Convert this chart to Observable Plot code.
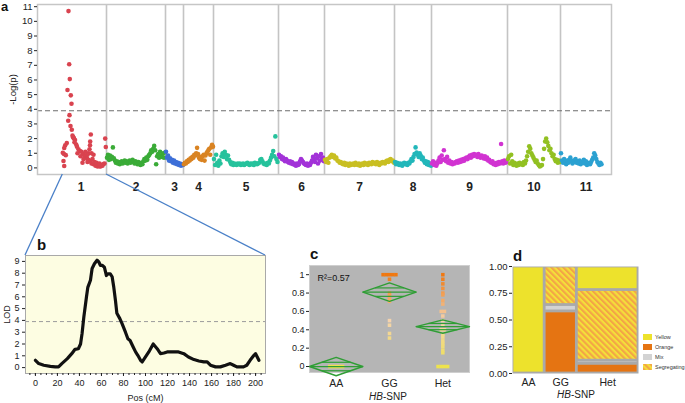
<!DOCTYPE html>
<html><head><meta charset="utf-8">
<script src="https://cdn.jsdelivr.net/npm/d3@7"></script>
<script src="https://cdn.jsdelivr.net/npm/@observablehq/plot@0.6"></script>
<style>
html,body{margin:0;padding:0;background:#fff;}
#root{position:relative;width:685px;height:403px;overflow:hidden;font-family:"Liberation Sans",Arial,sans-serif;color:#222;}
.panel{position:absolute;}
.plab{position:absolute;font:bold 15px "Liberation Sans",Arial,sans-serif;line-height:15px;color:#111;}
.xlab{position:absolute;font:10px "Liberation Sans",Arial,sans-serif;color:#222;transform:translate(-50%,-50%);white-space:nowrap;}
.legrow{position:absolute;display:flex;align-items:center;font:5.5px "Liberation Sans",Arial,sans-serif;color:#333;white-space:nowrap;}
</style></head><body>
<svg width="0" height="0" style="position:absolute"><defs>
<pattern id="hatch" patternUnits="userSpaceOnUse" width="4.2" height="4.2" patternTransform="rotate(-45)">
<rect width="4.2" height="4.2" fill="#f3e03a"></rect><rect width="2.1" height="4.2" fill="#f3a446"></rect>
</pattern></defs></svg>
<div id="root"></div>
<script>
// ---------- Panel a: genome scan ----------
const chromNames = ["1","2","3","4","5","6","7","8","9","10","11"];
const chromEnds = [51,110,128,158,223,269,339,376,452,505,556];
const chromColors = ["#d9434f","#3aab37","#3d6fd8","#d98322","#26c29c","#a232d8","#c9bf22","#22b7ba","#d133d1","#92c022","#2ba1d1"];
const threshold = 3.9;
const chr1Pos = [13,13.7,14.3,12,15.3,16,14,12.7,15,16.3,17.7,18.5,19.5,20.7,21.5,23,24.5,26,27.5,29,30,31.5,33,35,36,38,40,42,44,46,48,35.3,34.7,34.5,34,33,32,49.7,50.3,49,11.3,9.7,8.7,7.3,8.5,10.3,8,8.7,22,25,28,30,32,27,37,38,36,39,41,43,45,47,44,18,17,19];
const chr1LogP = [10.7,7.07,6.06,5.32,4.95,4.38,3.6,3.22,2.86,2.6,2.1,2.0,1.9,1.6,1.45,1.27,1.15,1.1,0.95,0.85,0.75,0.65,0.55,0.47,0.3,0.25,0.15,0.1,0.12,0.2,0.27,2.28,1.8,1.55,1.27,1.0,0.9,2.0,1.43,0.3,1.7,1.54,1.36,1.03,0.95,0.87,0.47,0.13,1.0,0.8,0.6,1.1,0.4,0.35,0.6,0.9,1.0,0.4,0.35,0.25,0.1,0.15,0.3,2.05,2.2,1.75];
const markerSpans = [[51.5,109.5],[110.5,127.5],[128.5,157.5],[158.5,222],[223.5,268.5],[269.5,338.5],[339.5,375.5],[376.5,451],[452.5,504.5],[505.5,546]];
const chr2LogP = [0.7,0.9,0.55,0.85,0.6,0.75,1.4,0.65,0.5,0.35,0.45,0.3,0.4,0.25,0.35,0.45,0.3,0.4,0.5,0.35,0.45,0.3,0.4,0.5,0.35,0.45,0.55,0.4,0.3,0.45,0.35,0.25,0.4,0.3,0.2,0.35,0.25,0.45,0.6,0.5,0.7,0.55,0.8,0.9,1.0,1.2,1.1,1.3,1.5,1.2,0.25,0.8,0.95,0.7,1.1,0.85,0.75,1.0,0.7,1.05];
const chr3LogP = [1.1,0.7,0.85,0.5,0.65,0.45,0.55,0.35,0.5,0.3,0.4,0.25,0.35,0.2,0.3,0.15,0.25,0.2];
const chr4LogP = [0.25,0.35,0.3,0.45,0.4,0.55,0.5,0.65,0.6,0.75,0.7,0.9,0.85,1.0,1.37,0.95,0.7,0.6,0.75,0.55,0.8,0.9,0.5,0.85,1.0,1.1,1.2,1.3,0.9,1.4,1.57,1.45];
const chr5LogP = [0.6,0.2,0.9,0.35,0.15,0.5,0.3,0.8,1.0,0.75,1.1,0.9,0.6,0.85,0.55,0.4,0.25,0.35,0.2,0.3,0.25,0.2,0.3,0.25,0.3,0.2,0.25,0.3,0.2,0.25,0.3,0.35,0.25,0.2,0.3,0.25,0.3,0.2,0.35,0.3,0.25,0.3,0.35,0.55,0.6,0.45,0.3,0.25,0.3,0.2,0.35,0.3,0.5,0.7,0.9,1.15,0.8,2.15,0.6,0.4];
const chr6LogP = [0.9,0.75,0.8,0.6,0.7,0.55,0.45,0.6,0.5,0.4,0.35,0.45,0.3,0.4,0.25,0.3,0.2,0.15,0.3,0.2,0.25,0.45,0.6,0.5,0.4,0.3,0.25,0.2,0.3,0.15,0.25,0.2,0.35,0.5,0.75,0.6,0.4,0.9,0.65,0.3,0.8,0.5,0.95,0.6,0.7,0.45];
const chr7LogP = [0.55,0.4,0.6,0.35,0.7,0.8,0.9,0.75,0.85,0.65,0.7,0.5,0.45,0.35,0.4,0.3,0.25,0.35,0.2,0.3,0.25,0.15,0.3,0.2,0.25,0.3,0.2,0.35,0.25,0.2,0.3,0.15,0.25,0.3,0.2,0.35,0.25,0.3,0.2,0.35,0.3,0.25,0.4,0.3,0.35,0.25,0.4,0.3,0.2,0.35,0.3,0.4,0.35,0.3,0.45,0.5,0.4,0.55,0.6,0.45,0.5,0.35];
const chr8LogP = [0.4,0.25,0.35,0.3,0.2,0.3,0.25,0.15,0.3,0.35,0.25,0.3,0.2,0.35,0.3,0.45,0.6,0.5,0.75,0.95,1.4,1.05,0.9,0.75,1.0,0.85,0.6,0.7,0.5,0.35,0.45,0.25,0.4,0.2,0.3,0.15];
const chr9LogP = [0.3,0.45,0.2,0.35,0.15,0.3,0.5,0.7,0.4,0.85,0.55,1.2,0.6,0.45,0.75,0.35,0.5,0.3,0.4,0.25,0.35,0.3,0.4,0.45,0.35,0.5,0.4,0.55,0.45,0.6,0.5,0.65,0.7,0.6,0.75,0.85,0.7,0.9,0.8,0.95,0.85,0.9,0.75,0.95,0.8,0.7,0.85,0.75,0.65,0.8,0.6,0.7,0.5,0.55,0.4,0.35,0.45,0.25,0.3,0.2,0.35,0.25,0.4,0.3,1.63,0.45,0.3,0.5,0.35,0.4];
const chr10LogP = [0.6,0.8,0.3,0.9,0.45,0.2,0.35,0.25,0.15,0.3,0.2,0.35,0.25,0.3,0.2,0.4,0.3,0.5,0.8,1.1,1.47,1.3,1.0,0.85,0.7,0.55,0.4,0.5,0.3,0.2,0.1,0.15,0.2,0.6,1.3,1.8,2.0,1.75,1.5,1.2,1.3,1.0,0.8,0.9,0.6,0.45,0.55,0.35,0.5,0.4];
const chr11LogP = [1.0,0.5,0.35,0.6,0.4,0.25,0.5,0.35,0.55,0.7,0.45,0.3,0.5,0.4,0.6,0.35,0.45,0.3,0.5,0.25,0.4,0.35,0.55,0.3,0.45,0.2,0.35,0.3,0.25,0.4,0.55,0.7,1.0,0.85,0.6,0.4,0.3,0.2,0.35,0.25];

// ---------- Panel b: LOD profile of chromosome 1 ----------
const lodPos = [0,3,7.6,13.6,18,21,24,29,33,36,39,41,42.4,44,46.4,47.6,50,51.5,53.6,56,57.6,59,60.6,62.7,64.5,65.8,68,69.7,71.2,72.7,74,76.7,78.8,81.8,84,86,88.8,91,93,95.5,97,100,103,107,110.6,113.6,116.7,119.7,125.8,130,134.8,139,144,148.5,153,156,159,163.6,168,172.7,177,180,183,189,192,195,198.5,200,201.5,203];
const lodValue = [0.62,0.34,0.2,0.11,0.06,0.06,0.34,0.76,1.18,1.55,1.6,2.0,2.9,4.3,6.0,6.8,7.4,8.4,8.8,9.1,8.95,8.67,8.67,8.5,7.8,7.95,7.95,7.7,6.8,5.7,4.6,4.15,3.7,3.0,2.45,2.3,1.75,1.33,1.04,0.62,0.48,0.9,1.33,2.0,1.6,1.18,1.24,1.33,1.33,1.33,1.18,0.9,0.68,0.56,0.48,0.48,0.2,0.06,0.06,0.2,0.34,0.2,0.06,0.06,0.2,0.62,1.04,1.18,0.9,0.62];

// ---------- Panel c: oneway by HB-SNP ----------
const cGroups = ["AA","GG","Het"];
const cAA = [0,0,0,0,0];
const cGG = [1,1,1,1,1,0.95,0.8,0.77,0.74,0.71,0.5,0.45,0.36,0.31];
const cHet = [1,0.95,0.9,0.85,0.8,0.78,0.72,0.68,0.6,0.6,0.55,0.5,0.45,0.4,0.4,0.35,0.32,0.28,0.25,0.22,0.18,0.15,0,0,0,0];
const cMeans = [0.0,0.81,0.435];
const cHalfCI = [0.10,0.10,0.073];
const cR2 = "R²=0.57";

// ---------- Panel d: mosaic ----------
const dGroups = ["AA","GG","Het"];
const dCounts = [12,12,23];
const dCategories = ["Yellow","Orange","Mix","Segregating"];
const dCatColors = ["#ede22c","#e57412","#d3d3d3","url(#hatch)"];
const dStackOrder = ["Orange","Mix","Segregating","Yellow"];
const dYellow = [1,0,0.22];
const dOrange = [0,0.58,0.09];
const dMix = [0,0.06,0.03];
const dSegregating = [0,0.36,0.66];

// ---------- layout ----------
const FONT = '"Liberation Sans", Arial, sans-serif';
const root = document.getElementById("root");
function place(el, left, top){const d=document.createElement("div");d.className="panel";d.style.left=left+"px";d.style.top=top+"px";d.appendChild(el);root.appendChild(d);return d;}
function html(cls, text, left, top){const d=document.createElement("div");d.className=cls;d.style.left=left+"px";d.style.top=top+"px";d.innerHTML=text;root.appendChild(d);return d;}
const baseStyle = {fontFamily: FONT, fontSize: "10px", color: "#222", background: "transparent", overflow: "visible"};

// Panel a
const chromStarts = [0, ...chromEnds.slice(0,-1)];
const chromCenters = chromStarts.map((s,i)=>(s+chromEnds[i])/2);
const nameOfCenter = new Map(chromCenters.map((c,i)=>[c, chromNames[i]]));
const manhattan = [];
chr1Pos.forEach((p,i)=>manhattan.push({chrom:"1", pos:p, logp:chr1LogP[i]}));
[chr2LogP,chr3LogP,chr4LogP,chr5LogP,chr6LogP,chr7LogP,chr8LogP,chr9LogP,chr10LogP,chr11LogP].forEach((vals,k)=>{
  const [a,b] = markerSpans[k];
  vals.forEach((v,i)=>manhattan.push({chrom:chromNames[k+1], pos:a+(b-a)*i/(vals.length-1), logp:v}));
});
const A = {left:0, top:0};
const plotA = Plot.plot({
  width: 615, height: 200, marginLeft: 37, marginRight: 4, marginTop: 4, marginBottom: 26,
  style: baseStyle,
  x: {domain: [-18, 556]},
  y: {domain: [-0.45, 11.15]},
  color: {domain: chromNames, range: chromColors},
  marks: [
    Plot.ruleX(chromEnds.slice(0,-1), {stroke: "#c4c4c4", strokeWidth: 1.6}),
    Plot.ruleY([threshold], {stroke: "#6e6e6e", strokeWidth: 1.2, strokeDasharray: "5,3"}),
    Plot.dot(manhattan, {x: "pos", y: "logp", fill: "chrom", r: 2.3}),
    Plot.frame({stroke: "#c6c6c6", strokeWidth: 1.5}),
    Plot.axisY(d3.range(0, 12), {tickSize: 3, tickPadding: 2, fontSize: 9.5, label: "-Log(p)", labelAnchor: "center", labelArrow: false, labelOffset: 28}),
    Plot.axisX(chromCenters, {tickSize: 0, tickPadding: 8, tickFormat: d => nameOfCenter.get(d), fontWeight: "bold", fontSize: 12, label: null})
  ]
});
place(plotA, A.left, A.top);

// Panel b
const B = {left:0, top:245};
const lod = lodPos.map((p,i)=>({pos:p, lod:lodValue[i]}));
const plotB = Plot.plot({
  width: 272, height: 158, marginLeft: 25, marginRight: 7, marginTop: 10, marginBottom: 30,
  style: baseStyle,
  x: {domain: [-9, 209]},
  y: {domain: [-0.5, 9.5]},
  marks: [
    Plot.frame({fill: "#fdfde2"}),
    Plot.ruleY([threshold], {stroke: "#9c9c9c", strokeDasharray: "4,3"}),
    Plot.line(lod, {x: "pos", y: "lod", stroke: "#111", strokeWidth: 3.2}),
    Plot.frame({stroke: "#a9a9a9"}),
    Plot.axisX(d3.range(-5, 210, 5), {tickSize: 2, tickFormat: () => "", label: null}),
    Plot.axisX(d3.range(0, 201, 20), {tickSize: 3, tickPadding: 3, fontSize: 9, label: "Pos (cM)", labelAnchor: "center", labelArrow: false, labelOffset: 27}),
    Plot.axisY(d3.range(0, 10), {tickSize: 3, tickPadding: 3, fontSize: 9, label: "LOD", labelAnchor: "center", labelArrow: false, labelOffset: 22})
  ]
});
place(plotB, B.left, B.top);

// Panel c
const C = {left:280, top:245};
const cPoints = [];
[cAA,cGG,cHet].forEach((vals,g)=>{
  const counts = d3.rollup(vals, v=>v.length, d=>d);
  const seen = new Map();
  vals.forEach(v=>{const n=counts.get(v), k=seen.get(v)||0; seen.set(v,k+1);
    cPoints.push({group:cGroups[g], value:v, xpos: g + (k-(n-1)/2)*0.06});});
});
const diamond = cGroups.flatMap((g,i)=>{const m=cMeans[i], h=cHalfCI[i];
  return [[i-0.5,m],[i,m+h],[i+0.5,m],[i,m-h],[i-0.5,m]].map(([x,y])=>({group:g,x,y}));});
const overlapF = 0.46;
const diamondLines = cGroups.flatMap((g,i)=>{const m=cMeans[i], h=cHalfCI[i], w=0.5*(1-overlapF);
  return [{x1:i-0.5,x2:i+0.5,y:m},{x1:i-w,x2:i+w,y:m+h*overlapF},{x1:i-w,x2:i+w,y:m-h*overlapF}];});
const plotC = Plot.plot({
  width: 200, height: 158, marginLeft: 29, marginRight: 11, marginTop: 20, marginBottom: 31,
  style: baseStyle,
  x: {domain: [-0.5, 2.5]},
  y: {domain: [-0.065, 1.1]},
  color: {type: "linear", domain: [0, 0.5, 1], range: ["#eee34c", "#f5d3ad", "#f07810"]},
  marks: [
    Plot.frame({fill: "#b5b5b5", stroke: "#cfcfcf"}),
    Plot.dot(cPoints, {x: "xpos", y: "value", fill: "value", symbol: "square", r: 2}),
    Plot.line(diamond, {x: "x", y: "y", z: "group", stroke: "#2f9e35", strokeWidth: 1.4}),
    Plot.link(diamondLines, {x1: "x1", x2: "x2", y1: "y", y2: "y", stroke: "#2f9e35", strokeWidth: 1.2}),
    Plot.text([cR2], {frameAnchor: "top-left", dx: 8, dy: 9, fontSize: 9, fill: "#111"}),
    Plot.axisY([0,0.2,0.4,0.6,0.8,1], {tickSize: 3, tickPadding: 2, fontSize: 9, tickFormat: d => String(d), label: null}),
    Plot.axisX([0,1,2], {tickSize: 0, tickPadding: 7, fontSize: 10.5, tickFormat: i => cGroups[i], label: null})
  ]
});
place(plotC, C.left, C.top);

// Panel d
const D = {left:480, top:245};
const dFrac = {Yellow:dYellow, Orange:dOrange, Mix:dMix, Segregating:dSegregating};
const dTotal = d3.sum(dCounts);
const mosaic = [];
let xc = 0;
const dCenters = [];
dGroups.forEach((g,i)=>{
  const x1 = xc/dTotal; xc += dCounts[i]; const x2 = xc/dTotal; dCenters.push((x1+x2)/2);
  let yc = 0;
  dStackOrder.forEach(cat=>{const f=dFrac[cat][i]; if(f>0){mosaic.push({group:g,cat,x1,x2,y1:yc,y2:yc+f}); yc+=f;}});
});
const nameOfD = new Map(dCenters.map((c,i)=>[c,dGroups[i]]));
const plotD = Plot.plot({
  width: 205, height: 158, marginLeft: 32, marginRight: 47, marginTop: 21, marginBottom: 30,
  style: baseStyle,
  x: {domain: [0, 1]},
  y: {domain: [0, 1]},
  color: {domain: dCategories, range: dCatColors},
  marks: [
    Plot.frame({fill: "#a9a9a9"}),
    Plot.rect(mosaic, {x1: "x1", x2: "x2", y1: "y1", y2: "y2", fill: "cat", inset: 1.4}),
    Plot.axisY([0,0.25,0.5,0.75,1], {tickSize: 3, tickPadding: 2, fontSize: 9.5, tickFormat: d3.format(".2f"), label: null}),
    Plot.axisX(dCenters, {tickSize: 0, tickPadding: 5, fontSize: 10.5, tickFormat: d => nameOfD.get(d), label: null})
  ]
});
place(plotD, D.left, D.top);

// legend for d
dCategories.forEach((cat,i)=>{
  const row = document.createElement("div"); row.className="legrow";
  row.style.left = "643px"; row.style.top = (334 + i*10) + "px";
  row.innerHTML = `<svg width="9" height="6" style="margin-right:3px"><rect width="9" height="6" fill="${dCatColors[i]}"></rect></svg><span>${cat}</span>`;
  root.appendChild(row);
});

// titles and HTML labels
const la = html("plab","a",1,0); la.style.fontSize = "13px"; la.style.lineHeight = "14.6px";
html("plab","b",37,237.3);
html("plab","c",310,246.3);
html("plab","d",513,248.3);
html("xlab","<i>HB</i>-SNP",388,396);
html("xlab","<i>HB</i>-SNP",576,394);

// connector lines from chromosome 1 in panel a to panel b
const xa = plotA.scale("x"), ya = plotA.scale("y");
const xb = plotB.scale("x"), yb = plotB.scale("y");
const aBottom = A.top + ya.apply(ya.domain[0]);
const aLeft = A.left + xa.apply(d3.min(chr1Pos));
const aRight = A.left + xa.apply(chromEnds[0]);
const bTop = B.top + yb.apply(yb.domain[1]);
const bLeft = B.left + xb.apply(xb.domain[0]);
const bRight = B.left + xb.apply(xb.domain[1]);
const ov = d3.select(root).append("svg").attr("width",685).attr("height",403)
  .style("position","absolute").style("left","0px").style("top","0px").style("pointer-events","none");
ov.append("line").attr("x1",aLeft).attr("y1",aBottom).attr("x2",bLeft).attr("y2",bTop).attr("stroke","#4a80c8").attr("stroke-width",1.3);
ov.append("line").attr("x1",aRight).attr("y1",aBottom).attr("x2",bRight).attr("y2",bTop).attr("stroke","#4a80c8").attr("stroke-width",1.3);
</script>
</body></html>
